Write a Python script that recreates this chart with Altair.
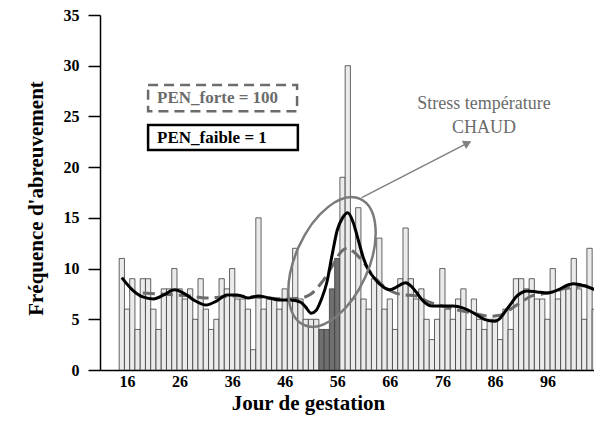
import altair as alt
import pandas as pd

# ---------------- data ----------------
days = list(range(15, 106))
freq = [11, 6, 9, 4, 9, 9, 6, 4, 8, 8,
        10, 8, 7, 8, 5, 9, 6, 4, 5, 9,
        8, 10, 7, 7, 6, 2, 15, 6, 7, 7,
        6, 8, 7, 12, 7, 5, 5, 5, 4, 4,
        8, 11, 19, 30, 7, 16, 7, 6, 9, 13,
        6, 7, 4, 9, 14, 9, 7, 8, 5, 3,
        5, 10, 6, 5, 7, 8, 4, 7, 5, 4,
        5, 5, 3, 6, 4, 9, 9, 8, 9, 7,
        7, 5, 10, 7, 8, 8, 11, 8, 5, 12, 6]
hot_days = [53, 54, 55, 56]

faible_days = [15, 17, 19, 21, 23, 25, 27, 29, 31, 33, 35, 37, 39, 41, 43, 45, 47, 49,
               50, 51, 52, 53, 54, 55, 56, 57, 58, 59, 60, 61, 62, 63, 64, 65, 66, 67,
               68, 69, 70, 71, 72, 73, 74, 76, 78, 80, 82, 84, 86, 87, 88, 89, 90, 91,
               92, 94, 96, 98, 100, 101, 103, 105.5]
faible_vals = [9.1, 7.9, 7.2, 7.0, 7.4, 7.9, 7.5, 6.8, 6.4, 6.8, 7.4, 7.4, 7.1, 7.3, 7.1, 6.9, 6.9, 6.7,
               6.2, 5.6, 5.9, 7.0, 8.6, 11.3, 13.8, 15.0, 15.5, 14.6, 12.8, 11.0, 9.8, 9.1, 8.5, 8.1, 7.9, 8.1,
               8.4, 8.6, 8.3, 7.7, 7.0, 6.5, 6.3, 6.3, 6.3, 6.1, 5.6, 5.0, 4.8, 5.1, 5.8, 6.5, 7.2, 7.6,
               7.8, 7.7, 7.6, 7.9, 8.4, 8.5, 8.3, 7.8]

forte_days = [19, 22, 25, 28, 31, 34, 37, 40, 43, 46, 49, 51, 53, 55, 57, 58, 59, 61, 63,
              65, 67, 69, 71, 73, 76, 79, 82, 85, 87, 89, 91, 93, 95, 97, 99, 101, 103, 105.5]
forte_vals = [7.6, 7.5, 7.4, 7.3, 7.1, 7.2, 7.3, 7.2, 7.1, 7.0, 7.1, 7.5, 8.6, 10.2, 11.8, 12.0, 11.7, 10.6, 9.2,
              8.2, 7.6, 7.4, 7.3, 6.8, 6.3, 5.9, 5.6, 5.3, 5.4, 6.0, 6.7, 7.3, 7.5, 7.7, 8.0, 8.2, 8.3, 8.0]

tick_days = [16, 26, 36, 46, 56, 66, 76, 86, 96]
y_ticks = [0, 5, 10, 15, 20, 25, 30, 35]

# ---------------- tables ----------------
bars = pd.DataFrame({"day": days, "freq": freq})
bars["x0"] = bars["day"] - 0.5
bars["x1"] = bars["day"] + 0.5
bars["grp"] = ["chaud" if d in hot_days else "normal" for d in days]

faible = pd.DataFrame({"day": faible_days, "val": faible_vals})
forte = pd.DataFrame({"day": forte_days, "val": forte_vals})

FONT = "Liberation Serif"
xscale = alt.Scale(domain=[10.85, 104.85], nice=False, zero=False)
yscale = alt.Scale(domain=[0, 35], nice=False)

x_axis = alt.Axis(values=tick_days, ticks=False, labelPadding=3, grid=False,
                  labelFont=FONT, labelFontSize=16, labelFontWeight="bold", labelColor="black",
                  domainColor="black", domainWidth=1.5,
                  title="Jour de gestation", titleFont=FONT, titleFontSize=21,
                  titleFontWeight="bold", titleColor="black",
                  titleX=208, titleY=33, titleAlign="center", titleBaseline="middle")
y_axis = alt.Axis(values=y_ticks, grid=False, tickSize=12, tickColor="black", tickWidth=1.5,
                  labelPadding=9, labelFont=FONT, labelFontSize=16, labelFontWeight="bold",
                  labelColor="black", domainColor="black", domainWidth=1.5,
                  title="Fréquence d'abreuvement", titleFont=FONT, titleFontSize=21,
                  titleFontWeight="bold", titleColor="black", titleAngle=270,
                  titleX=-58, titleY=183, titleAlign="center", titleBaseline="alphabetic")

bar_layer = alt.Chart(bars).mark_bar(stroke="#3c3c3c", strokeWidth=0.8, clip=True).encode(
    x=alt.X("x0:Q", scale=xscale, axis=x_axis),
    x2="x1:Q",
    y=alt.Y("freq:Q", scale=yscale, axis=y_axis),
    y2=alt.datum(0),
    fill=alt.Fill("grp:N", scale=alt.Scale(domain=["normal", "chaud"],
                                           range=["#ebebeb", "#6f6f6f"]), legend=None),
)

forte_layer = alt.Chart(forte).mark_line(color="#6b6b6b", strokeWidth=3, strokeDash=[12, 6],
                                         interpolate="monotone", clip=True).encode(
    x=alt.X("day:Q", scale=xscale), y=alt.Y("val:Q", scale=yscale))
faible_layer = alt.Chart(faible).mark_line(color="black", strokeWidth=3,
                                           interpolate="monotone", clip=True).encode(
    x=alt.X("day:Q", scale=xscale), y=alt.Y("val:Q", scale=yscale))

# ---------------- annotations ----------------
box_forte = alt.Chart().mark_rect(fill="white", stroke="#6b6b6b", strokeWidth=2.5,
                                  strokeDash=[10, 6]).encode(
    x=alt.datum(20.0), x2=alt.datum(48.35), y=alt.datum(28.1), y2=alt.datum(25.5))
box_faible = alt.Chart().mark_rect(fill="white", stroke="black", strokeWidth=2.5).encode(
    x=alt.datum(20.0), x2=alt.datum(48.5), y=alt.datum(24.15), y2=alt.datum(21.7))
txt_forte = alt.Chart().mark_text(text="PEN_forte = 100", font=FONT, fontSize=17,
                                  fontWeight="bold", color="#6b6b6b", align="left",
                                  baseline="middle").encode(x=alt.datum(21.7), y=alt.datum(26.8))
txt_faible = alt.Chart().mark_text(text="PEN_faible = 1", font=FONT, fontSize=17,
                                   fontWeight="bold", color="black", align="left",
                                   baseline="middle").encode(x=alt.datum(21.7), y=alt.datum(22.9))

ELLIPSE = "M 0,-1 A 0.53,1 0 1,1 0,1 A 0.53,1 0 1,1 0,-1 Z"
ellipse = alt.Chart().mark_point(shape=ELLIPSE, size=19044, filled=False, color="#7a7a7a",
                                 strokeWidth=2.5, angle=24, opacity=1).encode(
    x=alt.datum(55.0), y=alt.datum(10.65))

arrow = alt.Chart().mark_rule(color="#808080", strokeWidth=1.5).encode(
    x=alt.datum(60.65), y=alt.datum(17.0), x2=alt.datum(80.5), y2=alt.datum(22.3))
arrow_head = alt.Chart().mark_point(shape="triangle-right", filled=True, size=90, angle=333,
                                    color="#808080", opacity=1).encode(
    x=alt.datum(80.8), y=alt.datum(22.38))
stress1 = alt.Chart().mark_text(text="Stress température", font=FONT, fontSize=18,
                                color="#6b6b6b", align="center", baseline="middle").encode(
    x=alt.datum(83.9), y=alt.datum(26.25))
stress2 = alt.Chart().mark_text(text="CHAUD", font=FONT, fontSize=18,
                                color="#6b6b6b", align="center", baseline="middle").encode(
    x=alt.datum(83.9), y=alt.datum(23.85))

chart = alt.layer(
    bar_layer, forte_layer, faible_layer, ellipse, arrow, arrow_head,
    box_forte, box_faible, txt_forte, txt_faible, stress1, stress2,
).properties(
    width=494, height=355,
    autosize=alt.AutoSizeParams(type="none"),
    padding={"left": 92, "top": 7, "right": 0, "bottom": 45},
    background="white",
).configure_view(stroke=None)

chart.save("out.html", embed_options={"renderer": "svg", "actions": False})
